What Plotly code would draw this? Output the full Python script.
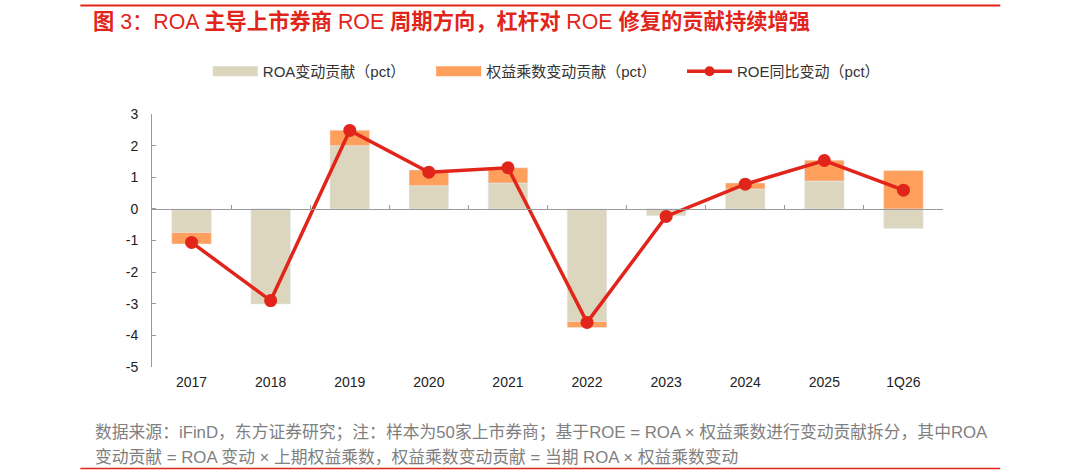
import plotly.graph_objects as go

# values (pct)
periods = ['2017', '2018', '2019', '2020', '2021', '2022', '2023', '2024', '2025', '1Q26']
roa_contrib = [-0.75, -3.01, 2.00, 0.73, 0.82, -3.56, -0.22, 0.63, 0.88, -0.62]
lev_contrib = [-0.36, 0.00, 0.49, 0.50, 0.48, -0.19, 0.00, 0.19, 0.66, 1.21]
roe_change = [-1.06, -2.90, 2.48, 1.16, 1.30, -3.59, -0.24, 0.78, 1.53, 0.59]

y_ticks = [-5, -4, -3, -2, -1, 0, 1, 2, 3]
y_ticktext = ['-5', '-4', '-3', '-2', '-1', '0', '1', '2', '3']

names = ['ROA变动贡献（pct）', '权益乘数变动贡献（pct）', 'ROE同比变动（pct）']
pad = '\u00a0' * 5  # extra room between legend entries

BEIGE = '#ddd6be'
ORANGE = '#fe9f5c'
RED = '#e1251b'
GRAY = '#9a9a9a'
FONT = 'Liberation Sans, Arial, Noto Sans CJK SC, sans-serif'

W, H = 1080, 475

fig = go.Figure()
fig.add_trace(go.Bar(x=periods, y=roa_contrib, name=names[0], marker_color=BEIGE,
                     width=0.5, showlegend=False, legendgroup='roa'))
fig.add_trace(go.Bar(x=periods, y=lev_contrib, name=names[1], marker_color=ORANGE,
                     width=0.5, showlegend=False, legendgroup='lev'))
fig.add_trace(go.Scatter(x=periods, y=roe_change, name=names[2], mode='lines+markers',
                         line=dict(color=RED, width=3.5),
                         marker=dict(color=RED, size=13), showlegend=False,
                         legendgroup='roe'))

# legend entries (wide swatches like the original)
fig.add_trace(go.Scatter(x=[None], y=[None], mode='lines', name=names[0] + pad,
                         line=dict(color=BEIGE, width=10), legendgroup='roa'))
fig.add_trace(go.Scatter(x=[None], y=[None], mode='lines', name=names[1] + pad,
                         line=dict(color=ORANGE, width=10), legendgroup='lev'))
fig.add_trace(go.Scatter(x=[None], y=[None], mode='lines+markers', name=names[2],
                         line=dict(color=RED, width=3.5),
                         marker=dict(color=RED, size=10), legendgroup='roe'))

n = len(periods)
title_txt = ('<b>图</b> 3：ROA <b>主导上市券商</b> ROE <b>周期方向，杠杆对</b> '
             'ROE <b>修复的贡献持续增强</b>')
fig.update_layout(
    width=W, height=H,
    barmode='relative',
    plot_bgcolor='white', paper_bgcolor='white',
    margin=dict(l=152, r=W - 943, t=114, b=H - 367),
    font=dict(family=FONT, size=14, color='#222222'),
    title=dict(text=title_txt,
               x=93 / W, y=1 - 22 / H, xref='container', yref='container',
               xanchor='left', yanchor='middle',
               font=dict(family=FONT, size=21.3, color=RED)),
    legend=dict(orientation='h', x=0.4985, y=1.168, xanchor='center', yanchor='middle',
                itemwidth=45,
                font=dict(size=15, color='#333333'), traceorder='normal'),
    xaxis=dict(type='category', categoryarray=periods, range=[-0.5, n - 0.5],
               showline=False, ticks='', showgrid=False, zeroline=False,
               ticklabelstandoff=5, tickfont=dict(size=14, color='#222222')),
    xaxis2=dict(type='linear', overlaying='x', anchor='free', position=5 / 8,
                range=[-0.5, n - 0.5], tick0=0.5, dtick=1, ticks='inside', ticklen=4,
                tickcolor=GRAY, showline=True, linecolor=GRAY, linewidth=1,
                showticklabels=False, showgrid=False, zeroline=False),
    yaxis=dict(range=[-5, 3], tickvals=y_ticks, ticktext=y_ticktext, showline=True,
               linecolor=GRAY, linewidth=1,
               ticks='inside', ticklen=4, tickcolor=GRAY, showgrid=False,
               zeroline=False, ticklabelstandoff=10,
               tickfont=dict(size=14, color='#222222')),
)

# dummy trace so that xaxis2 is drawn
fig.add_trace(go.Scatter(x=[None], y=[None], xaxis='x2', showlegend=False,
                         hoverinfo='skip'))

# red rules at top and bottom
fig.add_shape(type='line', xref='paper', yref='paper', x0=-0.0906, x1=1.0724,
              y0=1.429, y1=1.429, line=dict(color=RED, width=2))
fig.add_shape(type='line', xref='paper', yref='paper', x0=-0.0906, x1=1.0724,
              y0=-0.401, y1=-0.401, line=dict(color=RED, width=1.5))

notes = ['数据来源：iFinD，东方证券研究；注：样本为50家上市券商；基于ROE = ROA × 权益乘数进行变动贡献拆分，其中ROA',
         '变动贡献 = ROA 变动 × 上期权益乘数，权益乘数变动贡献 = 当期 ROA × 权益乘数变动']
for i, t in enumerate(notes):
    fig.add_annotation(text=t, xref='paper', yref='paper', x=-0.0742,
                       y=-0.2587 - i * 0.099, xanchor='left', yanchor='middle',
                       showarrow=False, font=dict(size=16.8, color='#7f7f7f'))

# drop the default body margin so the figure sits at the page corner
fig.write_html("out.html", config={'displayModeBar': False},
               post_script="document.body.style.margin='0';document.body.style.overflow='hidden';")
